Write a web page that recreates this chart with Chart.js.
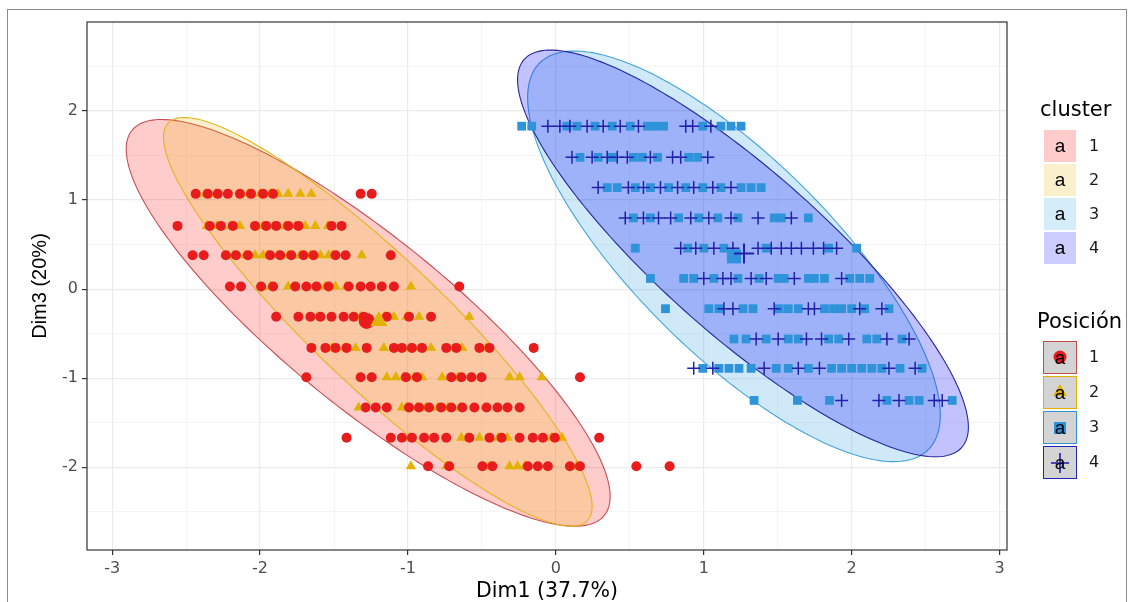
<!DOCTYPE html>
<html><head><meta charset="utf-8">
<script src="https://cdn.jsdelivr.net/npm/chart.js@4.4.1/dist/chart.umd.min.js"></script>
<style>
html,body{margin:0;padding:0;background:#fff;}
#wrap{position:relative;width:1134px;height:602px;overflow:hidden;background:#fff;}
#frame{position:absolute;left:7px;top:9px;width:1120px;height:660px;border:1px solid #8c8c8c;box-sizing:border-box;}
#c{position:absolute;left:0;top:0;}
.lt{position:absolute;font-family:"DejaVu Sans",sans-serif;font-size:21px;color:#000;line-height:24px;white-space:nowrap;}
.ll{position:absolute;font-family:"DejaVu Sans",sans-serif;font-size:16px;color:#1a1a1a;line-height:20px;}
.key{position:absolute;box-sizing:border-box;}
.key svg{position:absolute;left:0;top:0;}
</style></head>
<body>
<div id="wrap">
<div id="frame"></div>
<canvas id="c" width="1134" height="602"></canvas>
<div id="legend"></div>
</div>
<script>
// ---- data ----
const xTickValues = [-3,-2.5,-2,-1.5,-1,-0.5,0,0.5,1,1.5,2,2.5,3];
const xTickLabels = ['-3','','-2','','-1','','0','','1','','2','','3'];
const yTickValues = [-2.5,-2,-1.5,-1,-0.5,0,0.5,1,1.5,2,2.5];
const yTickLabels = ['','-2','','-1','','0','','1','','2',''];

// rows of Posición 1 / 2 (Dim3 values)
const rowY12 = [1.07, 0.71, 0.38, 0.03, -0.31, -0.66, -0.99, -1.33, -1.67, -1.99];
const pos1X = [
 [-2.435,-2.354,-2.286,-2.218,-2.136,-2.061,-1.980,-1.912,-1.320,-1.245],
 [-2.558,-2.340,-2.265,-2.184,-2.034,-1.959,-1.891,-1.810,-1.741,-1.517,-1.449],
 [-2.456,-2.381,-2.231,-2.163,-2.082,-1.932,-1.864,-1.789,-1.707,-1.639,-1.490,-1.422,-1.116],
 [-2.204,-2.129,-1.993,-1.912,-1.762,-1.687,-1.619,-1.537,-1.401,-1.320,-1.252,-1.177,-1.095,-0.653],
 [-1.891,-1.741,-1.660,-1.592,-1.517,-1.435,-1.367,-1.299,-1.143,-0.993,-0.844],
 [-1.653,-1.558,-1.490,-1.415,-1.279,-1.095,-1.041,-0.973,-0.905,-0.741,-0.673,-0.517,-0.449,-0.150],
 [-1.687,-1.320,-1.245,-1.014,-0.939,-0.707,-0.639,-0.571,-0.503,0.163],
 [-1.286,-1.218,-1.143,-0.993,-0.925,-0.857,-0.776,-0.707,-0.633,-0.551,-0.469,-0.395,-0.327,-0.245],
 [-1.415,-1.116,-1.041,-0.973,-0.891,-0.823,-0.741,-0.585,-0.449,-0.367,-0.245,-0.156,-0.088,-0.007,0.293],
 [-0.864,-0.721,-0.497,-0.429,-0.190,-0.122,-0.054,0.095,0.163,0.544,0.769]
];
const pos2X = [
 [-2.37,-2.30,-2.08,-2.00,-1.93,-1.878,-1.810,-1.728,-1.653],
 [-2.36,-2.29,-2.20,-2.136,-1.98,-1.91,-1.83,-1.76,-1.694,-1.626,-1.54],
 [-2.18,-2.10,-2.034,-1.980,-1.95,-1.88,-1.81,-1.73,-1.66,-1.592,-1.537,-1.51,-1.313],
 [-1.93,-1.810,-1.56,-1.490,-1.42,-0.980],
 [-1.61,-1.32,-1.16,-1.095,-1.01,-0.925,-0.585],
 [-1.51,-1.43,-1.354,-1.163,-0.99,-0.92,-0.844,-0.69,-0.633,-0.47],
 [-1.143,-1.082,-1.03,-0.96,-0.905,-0.769,-0.66,-0.313,-0.245,-0.095],
 [-1.333,-1.041,-1.01,-0.94,-0.88,-0.80,-0.73,-0.65],
 [-0.99,-0.639,-0.60,-0.517,-0.39,-0.327,-0.03,0.041],
 [-0.980,-0.74,-0.45,-0.313,-0.259,-0.21,0.14]
];

// rows of Posición 3 / 4
const rowY34 = [1.83, 1.48, 1.14, 0.80, 0.46, 0.12, -0.22, -0.56, -0.89, -1.25];
const pos3X = [
 [-0.231,-0.163,0.075,0.143,0.265,0.381,0.503,0.619,0.673,0.728,0.993,1.116,1.184,1.252],
 [0.163,0.286,0.381,0.524,0.585,0.687,0.898,0.959],
 [0.347,0.415,0.537,0.639,0.762,0.878,0.993,1.116,1.252,1.320,1.388],
 [0.524,0.639,0.830,0.966,1.095,1.231,1.476,1.524,1.707],
 [0.537,0.891,1.000,1.136,1.422,1.844,2.034],
 [0.639,0.864,0.932,1.068,1.231,1.374,1.503,1.544,1.707,1.748,1.816,1.986,2.054,2.122],
 [0.741,1.034,1.102,1.265,1.333,1.510,1.571,1.639,1.816,1.878,1.932,2.000,2.088,2.252],
 [1.204,1.286,1.422,1.571,1.639,1.844,1.912,2.102,2.170,2.340],
 [0.993,1.102,1.170,1.238,1.320,1.490,1.571,1.707,1.864,1.932,2.000,2.068,2.136,2.204,2.327,2.476],
 [1.340,1.633,1.850,2.238,2.388,2.456,2.680]
];
const pos4X = [
 [-0.054,0.027,0.095,0.211,0.320,0.435,0.558,0.878,0.925,1.048],
 [0.109,0.245,0.347,0.415,0.483,0.639,0.789,0.844,1.027],
 [0.286,0.490,0.592,0.707,0.823,0.932,1.061,1.184],
 [0.469,0.592,0.694,0.776,0.912,1.034,1.184,1.367,1.592],
 [0.844,0.946,1.068,1.197,1.367,1.456,1.524,1.592,1.660,1.741,1.810,1.898],
 [1.000,1.129,1.184,1.320,1.422,1.612,1.932],
 [1.136,1.197,1.476,1.707,1.748,2.054,2.204],
 [1.354,1.503,1.694,1.796,1.980,2.238,2.388],
 [0.932,1.061,1.408,1.639,1.782,2.252,2.429],
 [1.932,2.184,2.320,2.558,2.612]
];

// cluster centres (large marks)
const centroidX = [-1.279, -1.197, 1.204, 1.272];
const centroidY = [-0.357, -0.357, 0.368, 0.400];

// ellipse shapes per cluster: centre, half-width in Dim1, and Dim3 components
const ellipseCX = [-1.269, -1.204, 1.204, 1.265];
const ellipseCY = [-0.379, -0.368, 0.368, 0.401];
const ellipseW  = [1.636, 1.449, 1.395, 1.524];
const ellipseK  = [-1.950, -2.072, -1.783, -1.950];
const ellipseS  = [1.189, 0.987, 1.462, 1.189];

const clusterLabels = ['1','2','3','4'];
const posLabels = ['1','2','3','4'];

// ---- styles ----
const ptColor = ['#e81c1c', '#e3b200', '#2e93d9', '#2020ad'];
const ellipseFill = ['rgba(255,0,0,0.2)','rgba(231,184,0,0.2)','rgba(46,159,223,0.23)','rgba(0,0,255,0.24)'];
const ellipseStroke = ['rgba(190,50,60,0.85)','rgba(228,178,20,0.95)','rgba(60,160,215,0.95)','rgba(30,30,150,0.95)'];

function pts(xs, ys){ const out=[]; xs.forEach((row,i)=>row.forEach(v=>out.push({x:v,y:ys[i]}))); return out; }

const ellipsePlugin = {
  id:'ellipses',
  beforeDatasetsDraw(chart){
    const {ctx, scales:{x,y}} = chart;
    for (let i=0;i<4;i++){
      ctx.save();
      ctx.beginPath();
      for (let j=0;j<=240;j++){
        const t = j/240*2*Math.PI;
        const dx = ellipseCX[i] + ellipseW[i]*Math.cos(t);
        const dy = ellipseCY[i] + ellipseK[i]*Math.cos(t) + ellipseS[i]*Math.sin(t);
        const px = x.getPixelForValue(dx), py = y.getPixelForValue(dy);
        if (j===0) ctx.moveTo(px,py); else ctx.lineTo(px,py);
      }
      ctx.closePath();
      ctx.fillStyle = ellipseFill[i]; ctx.fill();
      ctx.strokeStyle = ellipseStroke[i]; ctx.lineWidth = 1.1; ctx.stroke();
      ctx.restore();
    }
  },
  afterDraw(chart){
    const {ctx, chartArea:a} = chart;
    ctx.save();
    ctx.strokeStyle = '#333'; ctx.lineWidth = 1.2;
    ctx.strokeRect(a.left, a.top, a.right-a.left, a.bottom-a.top);
    ctx.restore();
  }
};

const isMajor = v => Math.abs(v - Math.round(v)) < 1e-9;
const tickFont = {family:'"DejaVu Sans", sans-serif', size:16};

const datasets = [
  {label:'c4', data: [{x:centroidX[3], y:centroidY[3]}], pointStyle:'cross', pointRadius:10, borderColor:ptColor[3], borderWidth:2, order:0},
  {label:'c3', data: [{x:centroidX[2], y:centroidY[2]}], pointStyle:'rect', pointRadius:10, backgroundColor:ptColor[2], borderWidth:0, order:0.5},
  {label:'c2', data: [{x:centroidX[1], y:centroidY[1]}], pointStyle:'triangle', pointRadius:10, backgroundColor:ptColor[1], borderWidth:0, order:0.6},
  {label:'c1', data: [{x:centroidX[0], y:centroidY[0]}], pointStyle:'circle', pointRadius:8, backgroundColor:ptColor[0], borderWidth:0, order:0.7},
  {label:'4', data: pts(pos4X,rowY34), pointStyle:'cross', pointRadius:6.5, borderColor:ptColor[3], borderWidth:1.5, order:1},
  {label:'3', data: pts(pos3X,rowY34), pointStyle:'rect', pointRadius:6.2, backgroundColor:ptColor[2], borderWidth:0, order:2},
  {label:'1', data: pts(pos1X,rowY12), pointStyle:'circle', pointRadius:5, backgroundColor:ptColor[0], borderWidth:0, order:3},
  {label:'2', data: pts(pos2X,rowY12), pointStyle:'triangle', pointRadius:6, backgroundColor:ptColor[1], borderWidth:0, order:4}
];

new Chart(document.getElementById('c'), {
  type:'scatter',
  data:{datasets},
  plugins:[ellipsePlugin],
  options:{
    responsive:false, animation:false, devicePixelRatio:1,
    layout:{padding:{left:0,right:127,top:22,bottom:0}},
    plugins:{legend:{display:false}, tooltip:{enabled:false}},
    elements:{point:{hoverRadius:0}},
    scales:{
      x:{type:'linear', min:-3.17, max:3.05,
        afterBuildTicks:s=>{ s.ticks = xTickValues.map(v=>({value:v})); },
        afterFit:s=>{ s.height = 52; },
        ticks:{autoSkip:false, maxRotation:0, padding:4, color:'#4d4d4d', font:tickFont,
          callback:(v,i)=>xTickLabels[i]},
        grid:{color:c=>isMajor(c.tick.value)?'#ebebeb':'#f3f3f3', lineWidth:c=>isMajor(c.tick.value)?1.2:0.8,
          tickColor:c=>isMajor(c.tick.value)?'#333':'rgba(0,0,0,0)', tickLength:5, tickWidth:1.2},
        border:{display:false},
        title:{display:true, text:'Dim1 (37.7%)', color:'#000', font:{family:'"DejaVu Sans", sans-serif', size:20.5, lineHeight:1}, padding:{top:0,bottom:0}}
      },
      y:{type:'linear', min:-2.93, max:3.0,
        afterBuildTicks:s=>{ s.ticks = yTickValues.map(v=>({value:v})); },
        afterFit:s=>{ s.width = 87; },
        ticks:{autoSkip:false, padding:4, color:'#4d4d4d', font:tickFont,
          callback:(v,i)=>yTickLabels[i]},
        grid:{color:c=>isMajor(c.tick.value)?'#ebebeb':'#f3f3f3', lineWidth:c=>isMajor(c.tick.value)?1.2:0.8,
          tickColor:c=>isMajor(c.tick.value)?'#333':'rgba(0,0,0,0)', tickLength:5, tickWidth:1.2},
        border:{display:false},
        title:{display:true, text:'Dim3 (20%)', color:'#000', font:{family:'"Liberation Sans", Arial, sans-serif', size:20, lineHeight:1.2}, padding:{top:28,bottom:0}}
      }
    }
  }
});

// ---- legend (HTML) ----
const clusterKeyFill = ['#ffcccc','#faf1cc','#d5ecf9','#ccccff'];
const posKeyBorder = ['#c0504d','#e3b200','#2e93d9','#2323b5'];
const lg = document.getElementById('legend');
function addDiv(cls, left, top, html, style){ const d=document.createElement('div'); d.className=cls; d.style.left=left+'px'; d.style.top=top+'px'; if(style) Object.assign(d.style, style); d.innerHTML=html; lg.appendChild(d); return d; }
addDiv('lt', 1040, 97, 'cluster');
const letterSvg = '<text x="16" y="22" text-anchor="middle" font-family="Liberation Sans, Arial, sans-serif" font-size="19" fill="#000">a</text>';
clusterLabels.forEach((lab,i)=>{
  const top = 130 + i*34;
  addDiv('key', 1044, top, '<svg width="32" height="32">'+letterSvg+'</svg>', {width:'32px',height:'32px',background:clusterKeyFill[i]});
  addDiv('ll', 1089, top+6, lab);
});
addDiv('lt', 1037, 309, 'Posición');
const glyphs = [
  '<circle cx="16" cy="15" r="6.5" fill="'+ptColor[0]+'"/>',
  '<polygon points="16,7 23,19 9,19" fill="'+ptColor[1]+'"/>',
  '<rect x="10" y="10" width="12" height="12" fill="'+ptColor[2]+'"/>',
  '<line x1="7" y1="16" x2="25" y2="16" stroke="'+ptColor[3]+'" stroke-width="1.6"/><line x1="16" y1="6" x2="16" y2="26" stroke="'+ptColor[3]+'" stroke-width="1.6"/>'
];
posLabels.forEach((lab,i)=>{
  const top = 341 + i*35;
  addDiv('key', 1043, top, '<svg width="32" height="32">'+glyphs[i]+letterSvg+'</svg>', {width:'34px',height:'33px',background:'#d4d4d4',border:'1.5px solid '+posKeyBorder[i]});
  addDiv('ll', 1089, top+6, lab);
});
</script>
</body></html>
